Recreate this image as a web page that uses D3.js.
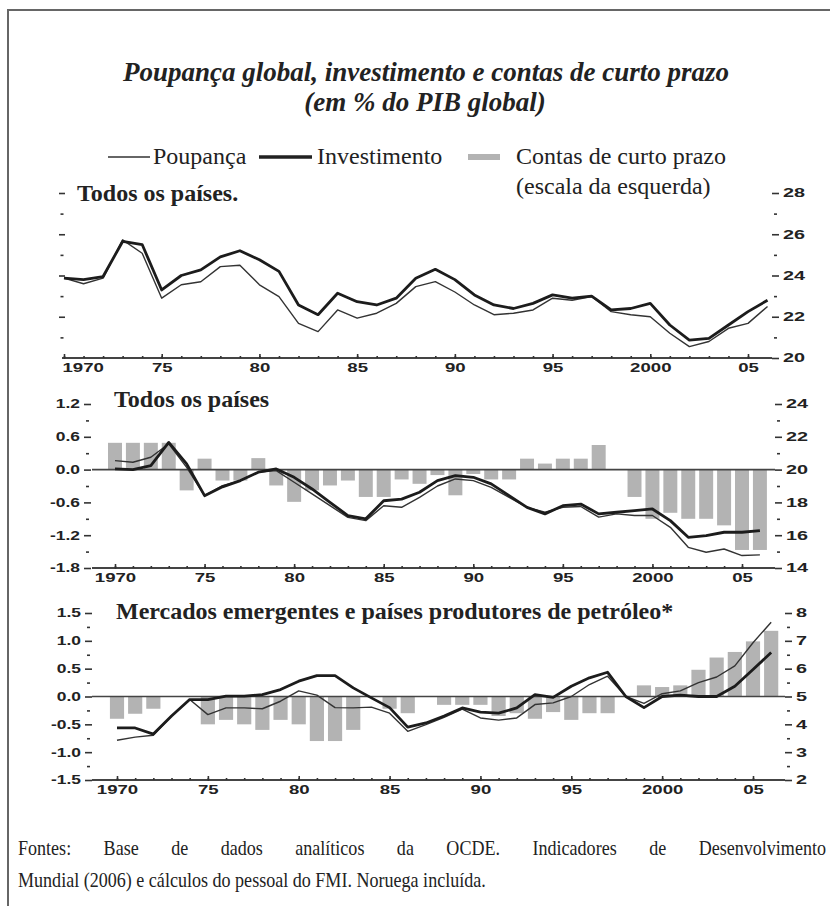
<!DOCTYPE html>
<html>
<head>
<meta charset="utf-8">
<script src="https://cdn.jsdelivr.net/npm/d3@7"></script>
<style>
  body { margin: 0; background: #fff; }
  svg { display: block; }
</style>
</head>
<body>
<div id="chart"></div>
<script>
// ---- data ----
var years = [1970,1971,1972,1973,1974,1975,1976,1977,1978,1979,
             1980,1981,1982,1983,1984,1985,1986,1987,1988,1989,
             1990,1991,1992,1993,1994,1995,1996,1997,1998,1999,
             2000,2001,2002,2003,2004,2005,2006];

var yearTicks  = [1970, 1975, 1980, 1985, 1990, 1995, 2000, 2005];
var yearLabels = ["1970", "75", "80", "85", "90", "95", "2000", "05"];

// panel 1: todos os países (escala da direita 20-28)
var saving1 = [23.87,23.6,23.87,25.73,25.08,22.9,23.55,23.7,24.43,24.5,
               23.55,22.98,21.68,21.28,22.33,21.93,22.17,22.65,23.46,23.7,
               23.2,22.57,22.1,22.17,22.33,22.9,22.8,22.98,22.25,22.1,
               22.0,21.2,20.55,20.8,21.44,21.68,22.5];
var invest1 = [23.87,23.8,23.95,25.65,25.5,23.3,24.0,24.27,24.9,25.2,
               24.76,24.2,22.57,22.1,23.14,22.73,22.57,22.9,23.87,24.3,
               23.8,23.06,22.57,22.4,22.65,23.06,22.9,23.0,22.33,22.4,
               22.65,21.6,20.87,20.95,21.6,22.25,22.8];

// panel 2: todos os países (linhas 14-24, barras -1.8 a 1.2)
var saving2 = [20.55,20.45,20.75,21.57,20.14,18.41,19.02,19.33,19.84,19.94,
               19.23,18.52,17.8,17.09,16.89,17.8,17.7,18.31,19.0,19.43,
               19.33,18.92,18.31,17.7,17.4,17.7,17.75,17.1,17.3,17.2,
               17.2,16.48,15.26,14.96,15.16,14.76,14.8];
var invest2 = [20.04,20.0,20.24,21.66,20.35,18.41,18.95,19.33,19.84,20.04,
               19.53,18.82,18.0,17.2,17.0,18.1,18.2,18.62,19.33,19.63,
               19.53,19.13,18.41,17.7,17.3,17.8,17.9,17.3,17.4,17.5,
               17.6,16.89,15.87,15.98,16.18,16.18,16.28];
var current2 = [0.49,0.49,0.49,0.49,-0.38,0.2,-0.2,-0.2,0.21,-0.29,
                -0.59,-0.38,-0.29,-0.2,-0.5,-0.5,-0.18,-0.26,-0.1,-0.47,
                -0.08,-0.18,-0.18,0.2,0.11,0.2,0.2,0.45,0,-0.5,
                -0.9,-0.79,-0.9,-0.9,-1.02,-1.47,-1.47];

// panel 3: mercados emergentes (linhas 2-8, barras -1.5 a 1.5)
var saving3 = [3.43,3.54,3.61,4.3,4.89,4.35,4.59,4.59,4.56,4.83,
               5.2,5.05,4.6,4.59,4.62,4.4,3.75,3.99,4.25,4.55,
               4.23,4.15,4.23,4.71,4.77,5.0,5.43,5.73,5.0,4.75,
               5.1,5.2,5.5,5.7,6.1,6.93,7.67];
var invest3 = [3.87,3.87,3.65,4.3,4.89,4.89,5.01,5.01,5.07,5.25,
               5.55,5.75,5.75,5.31,4.95,4.6,3.9,4.05,4.3,4.59,
               4.44,4.4,4.59,5.07,4.97,5.37,5.67,5.87,5.0,4.6,
               5.0,5.05,5.0,5.0,5.37,5.97,6.58];
var current3 = [-0.4,-0.31,-0.22,0,0,-0.5,-0.42,-0.5,-0.6,-0.42,
                -0.5,-0.8,-0.8,-0.6,0,-0.22,-0.3,0,-0.15,-0.15,
                -0.15,-0.35,-0.3,-0.4,-0.28,-0.42,-0.3,-0.3,0,0.2,
                0.17,0.2,0.48,0.7,0.8,0.99,1.18];

var right1 = [20, 22, 24, 26, 28],  right1Minor = [21, 23, 25, 27];
var right2 = [14, 16, 18, 20, 22, 24],  right2Minor = [15, 17, 19, 21, 23];
var left2  = [-1.8, -1.2, -0.6, 0, 0.6, 1.2],  left2Minor = [-1.5, -0.9, -0.3, 0.3, 0.9];
var right3 = [2, 3, 4, 5, 6, 7, 8],  right3Minor = [2.5, 3.5, 4.5, 5.5, 6.5, 7.5];
var left3  = [-1.5, -1, -0.5, 0, 0.5, 1, 1.5],  left3Minor = [-1.25, -0.75, -0.25, 0.25, 0.75, 1.25];

var ink = "#222", barGray = "#b3b3b3";
var tickFont = "bold 12px 'Liberation Sans', Arial, sans-serif";

var svg = d3.select("#chart").append("svg")
    .attr("width", 830)
    .attr("height", 906);

// frame of the box
svg.append("path")
    .attr("d", "M8,906V10H830")
    .attr("fill", "none")
    .attr("stroke", "#666")
    .attr("stroke-width", 2);

// title
var title = svg.append("g")
    .style("font", "italic bold 27px 'Liberation Serif', 'Times New Roman', serif")
    .attr("fill", ink)
    .attr("text-anchor", "middle");
title.append("text").attr("x", 426).attr("y", 81)
    .text("Poupança global, investimento e contas de curto prazo");
title.append("text").attr("x", 425).attr("y", 111)
    .text("(em % do PIB global)");

// legend
var legend = svg.append("g")
    .style("font", "24px 'Liberation Serif', 'Times New Roman', serif")
    .attr("fill", ink);
legend.append("line").attr("x1", 108).attr("x2", 150).attr("y1", 157).attr("y2", 157)
    .attr("stroke", "#333").attr("stroke-width", 1.4);
legend.append("text").attr("x", 153).attr("y", 164).text("Poupança");
legend.append("line").attr("x1", 259).attr("x2", 312).attr("y1", 157).attr("y2", 157)
    .attr("stroke", "#222").attr("stroke-width", 3.5);
legend.append("text").attr("x", 317).attr("y", 164).text("Investimento");
legend.append("rect").attr("x", 468).attr("y", 154).attr("width", 32).attr("height", 6)
    .attr("fill", barGray);
legend.append("text").attr("x", 516).attr("y", 164).text("Contas de curto prazo");
legend.append("text").attr("x", 516).attr("y", 194).text("(escala da esquerda)");

// widen the tick labels like the scanned bold grotesque
function widen(sel, k) {
    sel.selectAll("text").each(function () {
        var w = this.getComputedTextLength();
        d3.select(this).attr("textLength", w * k).attr("lengthAdjust", "spacingAndGlyphs");
    });
}

function styleAxis(g) {
    g.select(".domain").remove();
    g.selectAll("line").attr("stroke", "#333").attr("stroke-width", 1.6);
    g.selectAll("text").style("font", tickFont).attr("fill", ink);
}

function drawPanel(p) {
    var g = svg.append("g");
    var x = d3.scaleLinear().domain([1970, 2005]).range(p.xRange);
    var yR = d3.scaleLinear().domain([p.rightTicks[0], p.rightTicks[p.rightTicks.length - 1]])
        .range([p.yBottom, p.yTop]);

    // bars on the left scale
    if (p.bars) {
        var yL = d3.scaleLinear().domain([p.leftTicks[0], p.leftTicks[p.leftTicks.length - 1]])
            .range([p.yBottom, p.yTop]);
        var band = d3.scaleBand().domain(years)
            .range([x(1969.5), x(2006.5)])
            .paddingInner(0.22).paddingOuter(0.11);
        g.append("g").selectAll("rect")
            .data(years.map(function (yr, i) { return { year: yr, v: p.bars[i] }; }))
            .join("rect")
            .attr("x", function (d) { return band(d.year); })
            .attr("width", band.bandwidth())
            .attr("y", function (d) { return yL(Math.max(0, d.v)); })
            .attr("height", function (d) { return Math.abs(yL(d.v) - yL(0)); })
            .attr("fill", barGray);

        g.append("line")
            .attr("x1", p.lineX[0]).attr("x2", p.lineX[1])
            .attr("y1", yL(0)).attr("y2", yL(0))
            .attr("stroke", "#444").attr("stroke-width", 1.6);

        var la = g.append("g").attr("transform", "translate(" + p.leftX + ",0)")
            .call(d3.axisLeft(yL).tickValues(p.leftTicks).tickSize(7).tickPadding(4)
                .tickFormat(function (d) { return d.toFixed(1); }));
        styleAxis(la);
        widen(la, 1.45);
        var lm = g.append("g").attr("transform", "translate(" + (p.leftX - 2) + ",0)")
            .call(d3.axisLeft(yL).tickValues(p.leftMinor).tickSize(3).tickFormat(""));
        styleAxis(lm);
    } else {
        // panel 1 has unlabeled dashes on the left
        var lt = g.append("g").attr("transform", "translate(" + p.leftX + ",0)")
            .call(d3.axisLeft(yR).tickValues(p.rightTicks.slice(1)).tickSize(6).tickFormat(""));
        styleAxis(lt);
        var lt2 = g.append("g").attr("transform", "translate(" + (p.leftX - 1.5) + ",0)")
            .call(d3.axisLeft(yR).tickValues(p.rightMinor).tickSize(3).tickFormat(""));
        styleAxis(lt2);
    }

    // x axis
    g.append("line")
        .attr("x1", p.lineX[0]).attr("x2", p.lineX[1])
        .attr("y1", p.yBottom).attr("y2", p.yBottom)
        .attr("stroke", "#444").attr("stroke-width", 1.8);
    var xm = g.append("g").attr("transform", "translate(0," + (p.yBottom - 2) + ")")
        .call(d3.axisBottom(x).tickValues(years.slice(0, 36)).tickSize(2).tickFormat(""));
    styleAxis(xm);
    var xa = g.append("g").attr("transform", "translate(0," + (p.yBottom - 4) + ")")
        .call(d3.axisBottom(x).tickValues(yearTicks).tickSize(5).tickPadding(4)
            .tickFormat(function (d, i) { return yearLabels[i]; }));
    styleAxis(xa);
    widen(xa, 1.55);
    if (p.firstLabelStart) {
        xa.select(".tick text").attr("text-anchor", "start").attr("x", -2);
    }

    // right axis
    var ra = g.append("g").attr("transform", "translate(" + p.rightX + ",0)")
        .call(d3.axisRight(yR).tickValues(p.rightTicks).tickSize(7).tickPadding(4)
            .tickFormat(function (d) { return String(d); }));
    styleAxis(ra);
    widen(ra, 1.65);
    var rm = g.append("g").attr("transform", "translate(" + (p.rightX + 2) + ",0)")
        .call(d3.axisRight(yR).tickValues(p.rightMinor).tickSize(3).tickFormat(""));
    styleAxis(rm);

    // lines
    var line = d3.line()
        .x(function (d) { return x(d.year); })
        .y(function (d) { return yR(d.v); });
    g.append("path")
        .datum(years.map(function (yr, i) { return { year: yr, v: p.saving[i] }; }))
        .attr("d", line)
        .attr("fill", "none").attr("stroke", "#333").attr("stroke-width", 1.4)
        .attr("stroke-linejoin", "round");
    g.append("path")
        .datum(years.map(function (yr, i) { return { year: yr, v: p.invest[i] }; }))
        .attr("d", line)
        .attr("fill", "none").attr("stroke", "#1c1c1c").attr("stroke-width", 2.8)
        .attr("stroke-linejoin", "round");

    // panel title
    g.append("text")
        .attr("x", p.titleX).attr("y", p.titleY)
        .style("font", "bold 24px 'Liberation Serif', 'Times New Roman', serif")
        .attr("fill", ink)
        .text(p.title);
}

drawPanel({
    title: "Todos os países.", titleX: 77, titleY: 201,
    xRange: [64, 748], yBottom: 358, yTop: 193,
    lineX: [62, 772], leftX: 65, rightX: 772,
    rightTicks: right1, rightMinor: right1Minor,
    saving: saving1, invest: invest1,
    firstLabelStart: true
});

drawPanel({
    title: "Todos os países", titleX: 114, titleY: 407,
    xRange: [115, 742], yBottom: 568, yTop: 404,
    lineX: [92, 775], leftX: 91, rightX: 775,
    rightTicks: right2, rightMinor: right2Minor,
    leftTicks: left2, leftMinor: left2Minor,
    saving: saving2, invest: invest2, bars: current2
});

drawPanel({
    title: "Mercados emergentes e países produtores de petróleo*", titleX: 116, titleY: 619,
    xRange: [117, 753], yBottom: 780, yTop: 613,
    lineX: [92, 785], leftX: 92, rightX: 785,
    rightTicks: right3, rightMinor: right3Minor,
    leftTicks: left3, leftMinor: left3Minor,
    saving: saving3, invest: invest3, bars: current3
});

// footer (first line justified to the box width)
var footScale = 0.86;
var foot = svg.append("g")
    .attr("transform", "translate(18,0) scale(" + footScale + ",1)")
    .style("font", "21px 'Liberation Serif', 'Times New Roman', serif")
    .attr("fill", ink);
var line1 = "Fontes: Base de dados analíticos da OCDE. Indicadores de Desenvolvimento";
var f1 = foot.append("text").attr("x", 0).attr("y", 855).text(line1);
var target = 808 / footScale;
var spaces = line1.split(" ").length - 1;
var ws = 0;
for (var k = 0; k < 3; k++) {
    ws += (target - f1.node().getComputedTextLength()) / spaces;
    f1.style("word-spacing", Math.max(0, ws) + "px");
}
foot.append("text").attr("x", 0).attr("y", 887)
    .text("Mundial (2006) e cálculos do pessoal do FMI. Noruega incluída.");
</script>
</body>
</html>
